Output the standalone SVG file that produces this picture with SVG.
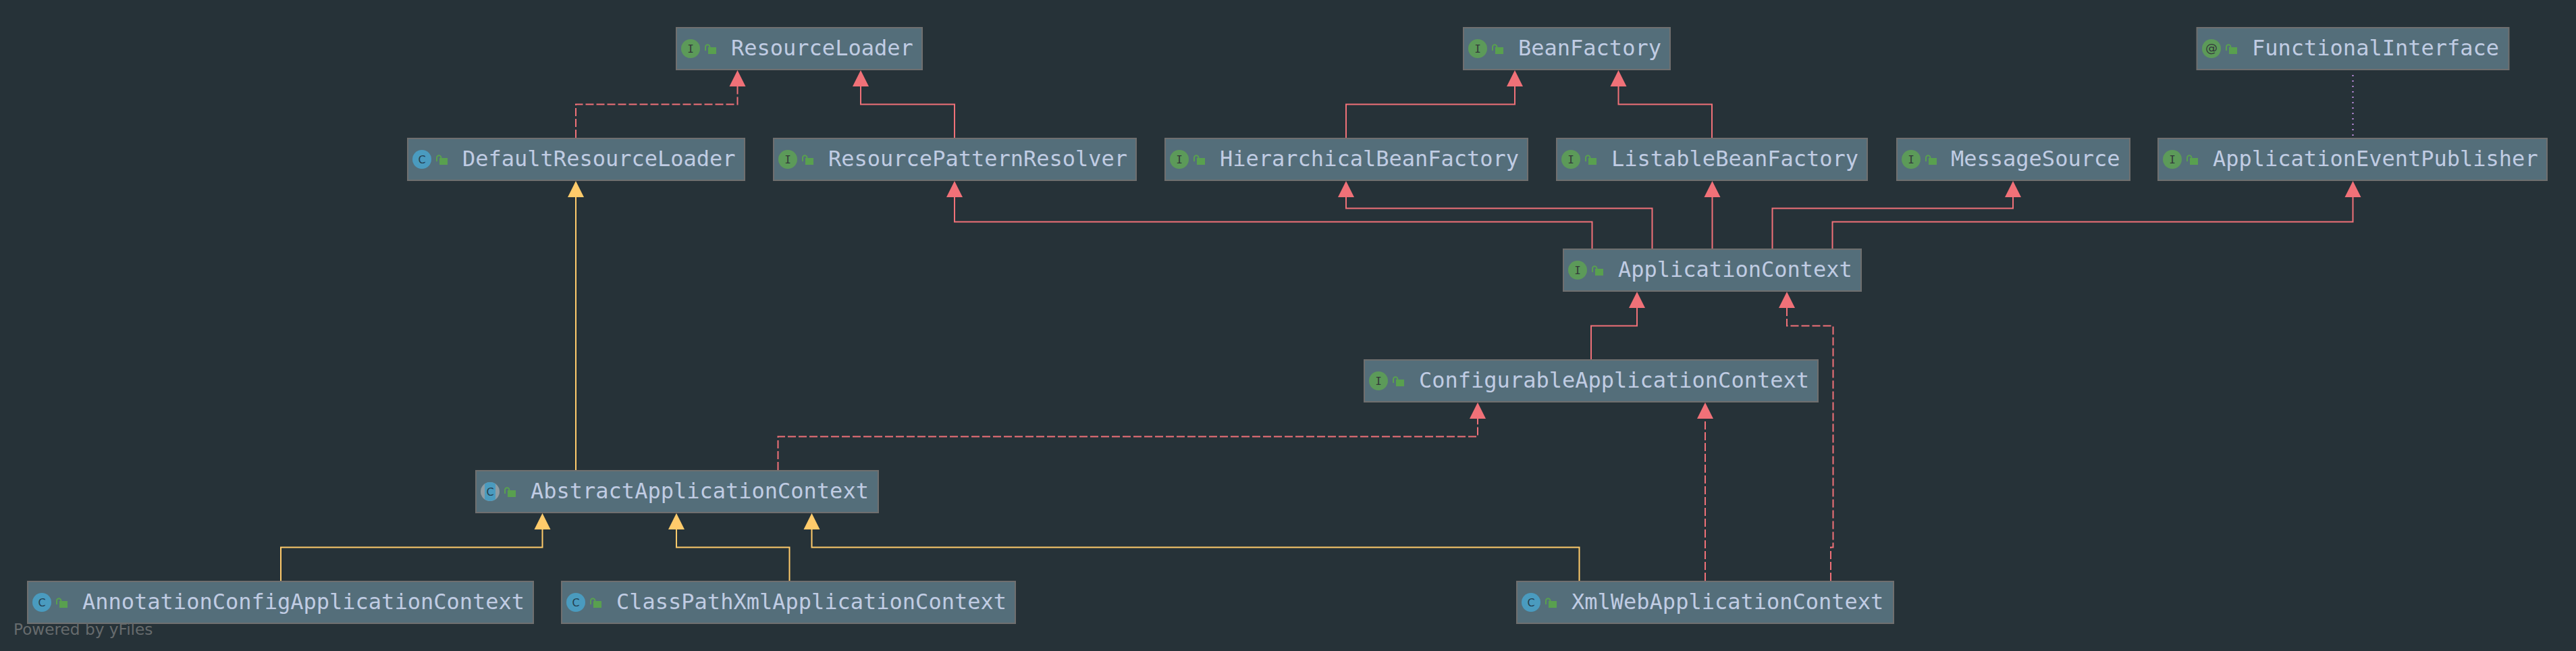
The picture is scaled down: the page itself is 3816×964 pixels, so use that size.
<svg xmlns="http://www.w3.org/2000/svg" xmlns:xlink="http://www.w3.org/1999/xlink" width="3816" height="964" viewBox="0 0 3816 964">
<style>
.bg{fill:#263238}
.box{fill:#546e7a;stroke:#6f6f6f;stroke-width:2}
.label{font-family:"DejaVu Sans Mono","Liberation Mono",monospace;font-size:32px;fill:#c0cce3}
.glyph{font-family:"DejaVu Sans Mono","Liberation Mono",monospace;font-size:16px;fill:#33393a;text-anchor:middle}
.glyphc{font-family:"DejaVu Sans","Liberation Sans",sans-serif;font-size:16px;fill:#24404f;text-anchor:middle}
.glypha{font-family:"DejaVu Sans","Liberation Sans",sans-serif;font-size:18px;fill:#33393a;text-anchor:middle}
.edge{fill:none;stroke-width:2}
.red{stroke:#f07178}
.yellow{stroke:#ffcb6b}
.dash{stroke-dasharray:12 4}
.dot{fill:none;stroke:#c792ea;stroke-width:2;stroke-dasharray:2 6}
.wm{font-family:"DejaVu Sans","Liberation Sans",sans-serif;font-size:23.2px;fill:#666b6d}
</style>
<defs>
<marker id="ar" markerUnits="userSpaceOnUse" markerWidth="26" markerHeight="26" refX="0" refY="12" orient="auto" overflow="visible"><path d="M0,0 L24,12 L0,24 Z" fill="#f07178"/></marker>
<marker id="ay" markerUnits="userSpaceOnUse" markerWidth="26" markerHeight="26" refX="0" refY="12" orient="auto" overflow="visible"><path d="M0,0 L24,12 L0,24 Z" fill="#ffcb6b"/></marker>
<clipPath id="strip"><rect x="-8" y="-14" width="16" height="28"/></clipPath>
<g id="lock"><rect x="-6" y="-5" width="12" height="10" fill="#59a04f"/><path d="M-10,0 V-5.5 A3.2,3.2 0 0 1 -3.6,-5.5 V-4" fill="none" stroke="#59a04f" stroke-width="2"/></g>
<g id="iI"><circle r="14" fill="#5c9a59"/><text class="glyph" y="6">I</text><use xlink:href="#lock" x="32" y="3"/></g>
<g id="iA"><circle r="14" fill="#5c9a59"/><text class="glypha" y="5">@</text><use xlink:href="#lock" x="32" y="3"/></g>
<g id="iC"><circle r="14" fill="#4a9bbf"/><text class="glyphc" y="6">C</text><use xlink:href="#lock" x="32" y="3"/></g>
<g id="iB"><circle r="14" fill="#8f9ca3"/><circle r="14" fill="#4a9bbf" clip-path="url(#strip)"/><text class="glyphc" y="6">C</text><use xlink:href="#lock" x="32" y="3"/></g>
</defs>
<rect class="bg" width="3816" height="964"/>
<g id="connectors">
<path class="edge red dash" marker-end="url(#ar)" d="M853,204 V154.5 H1092.5 V128"/>
<path class="edge red" marker-end="url(#ar)" d="M1414,204 V154.5 H1275 V128"/>
<path class="edge red" marker-end="url(#ar)" d="M1994,204 V154.5 H2244 V128"/>
<path class="edge red" marker-end="url(#ar)" d="M2536,204 V154.5 H2397.5 V128"/>
<path class="dot" d="M3485.5,111 V204"/>
<path class="edge red" marker-end="url(#ar)" d="M2358.5,368 V328.5 H1414 V292"/>
<path class="edge red" marker-end="url(#ar)" d="M2447.5,368 V308.5 H1994 V292"/>
<path class="edge red" marker-end="url(#ar)" d="M2536.5,368 V292"/>
<path class="edge red" marker-end="url(#ar)" d="M2625.5,368 V308.5 H2982 V292"/>
<path class="edge red" marker-end="url(#ar)" d="M2714.5,368 V328.5 H3485.5 V292"/>
<path class="edge red" marker-end="url(#ar)" d="M2357,532 V482.5 H2425 V456"/>
<path class="edge red dash" marker-end="url(#ar)" d="M2712,860 V810.5 H2715.5 V482.5 H2647 V456"/>
<path class="edge red dash" marker-end="url(#ar)" d="M2526,860 V620"/>
<path class="edge red dash" marker-end="url(#ar)" d="M1152.5,696 V646.5 H2189 V620"/>
<path class="edge yellow" marker-end="url(#ay)" d="M853,696 V292"/>
<path class="edge yellow" marker-end="url(#ay)" d="M416,860 V810.5 H803.5 V784"/>
<path class="edge yellow" marker-end="url(#ay)" d="M1169.5,860 V810.5 H1002 V784"/>
<path class="edge yellow" marker-end="url(#ay)" d="M2339.5,860 V810.5 H1202.5 V784"/>
</g>
<g id="ResourceLoader"><rect class="box" x="1002" y="41" width="364" height="62"/><use xlink:href="#iI" x="1023" y="72"/><text class="label" x="1083" y="82">ResourceLoader</text></g>
<g id="BeanFactory"><rect class="box" x="2168" y="41" width="306" height="62"/><use xlink:href="#iI" x="2189" y="72"/><text class="label" x="2249" y="82">BeanFactory</text></g>
<g id="FunctionalInterface"><rect class="box" x="3254.5" y="41" width="462" height="62"/><use xlink:href="#iA" x="3276" y="72"/><text class="label" x="3336" y="82">FunctionalInterface</text></g>
<g id="DefaultResourceLoader"><rect class="box" x="604" y="205" width="499" height="62"/><use xlink:href="#iC" x="625" y="236"/><text class="label" x="685" y="246">DefaultResourceLoader</text></g>
<g id="ResourcePatternResolver"><rect class="box" x="1146" y="205" width="537" height="62"/><use xlink:href="#iI" x="1167" y="236"/><text class="label" x="1227" y="246">ResourcePatternResolver</text></g>
<g id="HierarchicalBeanFactory"><rect class="box" x="1726" y="205" width="537" height="62"/><use xlink:href="#iI" x="1747" y="236"/><text class="label" x="1807" y="246">HierarchicalBeanFactory</text></g>
<g id="ListableBeanFactory"><rect class="box" x="2306" y="205" width="460" height="62"/><use xlink:href="#iI" x="2327" y="236"/><text class="label" x="2387" y="246">ListableBeanFactory</text></g>
<g id="MessageSource"><rect class="box" x="2810" y="205" width="345" height="62"/><use xlink:href="#iI" x="2831" y="236"/><text class="label" x="2890" y="246">MessageSource</text></g>
<g id="ApplicationEventPublisher"><rect class="box" x="3197" y="205" width="576" height="62"/><use xlink:href="#iI" x="3218" y="236"/><text class="label" x="3278" y="246">ApplicationEventPublisher</text></g>
<g id="ApplicationContext"><rect class="box" x="2316" y="369" width="441" height="62"/><use xlink:href="#iI" x="2337" y="400"/><text class="label" x="2397" y="410">ApplicationContext</text></g>
<g id="ConfigurableApplicationContext"><rect class="box" x="2021" y="533" width="672" height="62"/><use xlink:href="#iI" x="2042" y="564"/><text class="label" x="2102" y="574">ConfigurableApplicationContext</text></g>
<g id="AbstractApplicationContext"><rect class="box" x="705" y="697" width="596" height="62"/><use xlink:href="#iB" x="726" y="728"/><text class="label" x="786" y="738">AbstractApplicationContext</text></g>
<g id="AnnotationConfigApplicationContext"><rect class="box" x="41" y="861" width="749" height="62"/><use xlink:href="#iC" x="62" y="892"/><text class="label" x="122" y="902">AnnotationConfigApplicationContext</text></g>
<g id="ClassPathXmlApplicationContext"><rect class="box" x="832" y="861" width="672" height="62"/><use xlink:href="#iC" x="853" y="892"/><text class="label" x="913" y="902">ClassPathXmlApplicationContext</text></g>
<g id="XmlWebApplicationContext"><rect class="box" x="2247" y="861" width="558" height="62"/><use xlink:href="#iC" x="2268" y="892"/><text class="label" x="2328" y="902">XmlWebApplicationContext</text></g>
<text class="wm" x="20" y="940">Powered by yFiles</text>
</svg>
